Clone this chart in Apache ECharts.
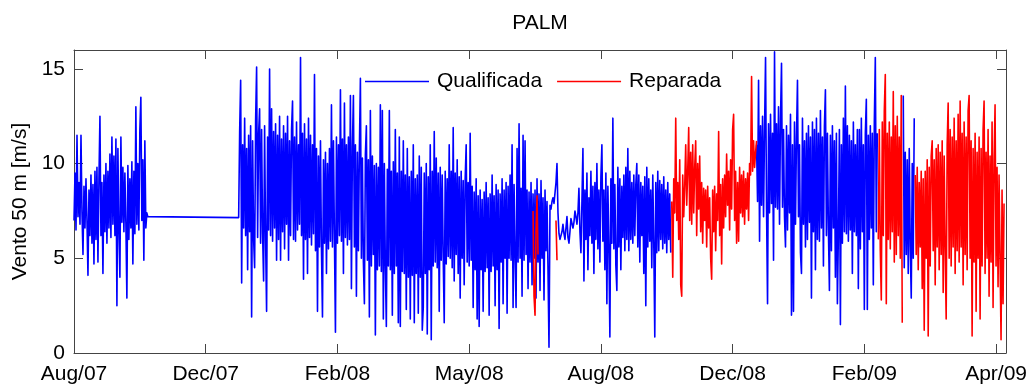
<!DOCTYPE html>
<html><head><meta charset="utf-8">
<script src="https://cdn.jsdelivr.net/npm/echarts@6/dist/echarts.min.js"></script>
<style>html,body{margin:0;padding:0;background:#fff}#c{width:1030px;height:390px}</style>
</head><body><div id="c"></div>
<script>
const chartTitle = 'PALM';
const yAxisName = 'Vento 50 m [m/s]';
const seriesNames = ['Qualificada', 'Reparada'];
const tickLabels = ['Aug/07', 'Dec/07', 'Feb/08', 'May/08', 'Aug/08', 'Dec/08', 'Feb/09', 'Apr/09'];
const samplesPerTick = 132;
const totalSamples = 934;
const yMax = 16;
const yTickStep = 5;

// Qualificada (blue): start sample index + wind speed values [m/s]
const qualStart1 = 0;
const qual1 = [
  7.0, 9.5, 6.5, 11.5, 7.2, 9.0, 6.8, 11.5, 7.4, 5.2,
  8.8, 6.6, 9.2, 7.0, 4.1, 8.6, 6.2, 9.4, 5.8, 8.9,
  4.7, 9.6, 6.0, 9.8, 4.8, 9.2, 12.5, 6.2, 9.0, 4.2,
  9.4, 6.4, 10.0, 5.8, 9.6, 6.6, 10.5, 6.1, 11.4, 6.8,
  10.4, 6.2, 11.3, 2.5, 10.8, 6.5, 4.0, 11.4, 6.9, 9.8,
  6.4, 9.5, 6.8, 2.9, 9.9, 6.0, 9.2, 6.6, 10.1, 4.7,
  9.6, 6.3, 13.0, 6.8, 10.0, 6.5, 11.8, 13.5, 7.0, 10.2,
  4.9, 11.2, 6.6, 7.4, 7.2];
const qualGapEnd = 165;
const qualGapValue = 7.15;
const qualStart2 = 166;
const qual2 = [
  11.7, 14.4, 3.7, 11.0, 6.6, 12.4, 6.2, 10.8, 4.4, 11.5,
  6.4, 12.0, 1.9, 11.2, 6.0, 4.5, 12.3, 15.1, 6.1, 11.6,
  12.9, 5.8, 11.8, 6.3, 3.8, 12.0, 6.0, 2.2, 11.4, 6.5,
  15.0, 6.2, 12.9, 5.9, 11.7, 6.6, 12.1, 4.9, 11.5, 6.0,
  12.5, 4.9, 11.3, 6.4, 12.0, 5.5, 11.6, 6.8, 12.5, 4.9,
  11.2, 6.2, 11.8, 13.3, 6.0, 11.4, 5.9, 12.2, 6.5, 11.0,
  6.8, 15.6, 6.2, 11.6, 3.9, 12.1, 6.0, 11.3, 4.2, 12.4,
  6.1, 11.5, 5.7, 11.0, 6.3, 14.7, 5.4, 10.8, 2.2, 10.4,
  5.6, 11.2, 5.4, 1.9, 10.2, 5.8, 10.6, 4.2, 10.0, 5.5,
  10.8, 5.9, 13.1, 5.6, 11.2, 6.0, 1.1, 11.4, 5.8, 11.0,
  6.2, 13.9, 5.9, 11.3, 4.2, 13.2, 6.1, 11.0, 5.7, 11.4,
  6.0, 13.6, 3.4, 10.9, 13.6, 5.6, 11.0, 3.0, 10.6, 5.4,
  10.8, 14.5, 5.0, 10.3, 4.8, 2.6, 10.5, 12.0, 4.9, 10.2,
  1.9, 12.8, 4.6, 10.4, 5.2, 9.9, 0.95, 10.0, 4.4, 9.8,
  4.6, 13.1, 4.3, 12.8, 1.8, 10.0, 4.5, 1.4, 9.7, 4.6,
  12.8, 4.4, 9.6, 2.0, 10.1, 4.2, 11.8, 4.6, 9.5, 1.6,
  11.4, 1.4, 9.6, 4.3, 11.2, 4.2, 9.4, 2.3, 10.8, 4.0,
  9.3, 1.8, 9.6, 4.1, 11.0, 1.6, 9.2, 4.2, 9.4, 2.1,
  10.4, 4.0, 9.8, 1.2, 2.4, 9.5, 4.2, 10.0, 1.0, 9.3,
  4.4, 11.0, 0.7, 9.6, 4.6, 11.7, 4.8, 10.3, 4.5, 9.5,
  2.2, 9.8, 4.9, 9.4, 5.0, 1.6, 9.6, 4.7, 9.2, 5.1,
  11.0, 5.0, 9.6, 4.5, 11.9, 3.8, 9.5, 5.2, 10.2, 4.2,
  9.3, 2.9, 9.6, 5.0, 9.1, 3.6, 9.2, 11.0, 4.8, 9.0,
  4.6, 11.6, 4.9, 8.8, 2.4, 8.5, 4.4, 9.2, 1.8, 8.3,
  1.4, 8.6, 4.4, 8.1, 2.2, 8.5, 4.3, 9.0, 4.5, 8.2,
  2.0, 8.4, 4.3, 9.4, 4.6, 8.3, 2.5, 8.9, 4.4, 8.6,
  1.3, 8.4, 4.8, 9.2, 2.6, 8.6, 5.0, 9.0, 2.1, 8.8,
  5.0, 9.4, 4.9, 11.0, 2.4, 8.9, 5.1, 2.4, 10.8, 4.8,
  12.1, 5.0, 8.7, 3.0, 11.5, 4.9, 11.2, 5.2, 8.6, 3.4,
  8.5, 4.8, 9.0, 3.6, 8.4, 5.0, 8.6, 2.9, 9.2, 4.8,
  8.4, 3.3, 9.1, 5.0, 8.2, 2.8, 8.6, 5.4, 8.0, 4.4,
  0.3, 7.8,
  7.6, 8.0, 8.2, 7.9, 7.8, 9.0, 10.0, 7.4, 6.3, 6.0,
  5.9, 6.4, 6.8, 6.3, 6.0, 6.6, 7.2, 6.1, 5.8, 6.4,
  7.1, 7.0, 6.6, 6.9, 7.5, 7.2, 6.8, 7.4, 8.7, 6.4,
  5.3, 8.0,
  10.8, 3.8, 8.6, 6.0, 9.5, 4.4, 8.2, 6.2, 9.6, 5.8,
  8.8, 4.2, 9.0, 6.0, 10.0, 5.5, 8.6, 4.8, 9.3, 11.0,
  5.9, 8.6, 4.4, 9.5, 2.6, 8.8, 5.6, 0.85, 9.2, 5.8,
  12.4, 5.5, 8.9, 4.6, 3.3, 9.8, 5.6, 9.2, 4.4, 8.8,
  6.1, 9.4, 5.4, 9.8, 6.0, 10.8, 5.4, 9.6, 6.0, 9.0,
  5.8, 9.4, 6.2, 8.9, 10.0, 5.6, 9.4, 4.8, 9.0, 6.2,
  8.8, 4.2, 9.3, 2.5, 9.8, 5.6, 9.2, 5.9, 8.6, 4.5,
  9.4, 5.8, 0.85, 9.0, 5.3, 9.6, 5.4, 9.1, 6.0, 8.9,
  5.5, 9.3, 5.8, 8.6, 5.3, 9.0, 6.0, 8.4, 5.3];
const qualStart3 = 684;
const qual3 = [
  11.0, 8.0, 14.4, 5.9, 12.0, 7.8, 12.5, 7.2, 11.8, 15.6,
  7.6, 2.6, 12.1, 7.4, 12.6, 7.9, 11.6, 4.9, 15.9, 7.7,
  12.1, 7.6, 13.0, 6.8, 12.4, 15.3, 7.7, 11.8, 7.2, 5.6,
  12.0, 6.5, 11.5, 7.4, 12.6, 2.0, 11.0, 2.2, 12.2, 6.8,
  11.4, 14.4, 7.2, 11.0, 5.3, 4.2, 12.4, 6.8, 11.2, 5.6,
  11.6, 6.0, 12.0, 6.9, 11.4, 2.9, 12.2, 6.4, 11.8, 4.4,
  12.4, 6.0, 11.6, 5.9, 12.8, 6.6, 11.4, 4.6, 12.0, 13.9,
  6.2, 11.6, 6.5, 3.3, 11.5, 5.4, 12.0, 6.6, 11.2, 4.0,
  11.6, 2.6, 6.3, 11.8, 1.5, 11.0, 5.8, 12.4, 6.4, 14.1,
  6.3, 12.0, 5.9, 11.5, 6.5, 11.2, 4.2, 12.2, 6.4, 11.0,
  6.2, 11.8, 3.4, 11.8, 5.5, 12.4, 6.4, 11.0, 2.3, 11.6,
  13.4, 2.3, 11.5, 6.0, 12.0, 6.6, 11.6, 3.6, 12.2, 15.6,
  6.4, 11.6];
const qualStart4 = 831;
const qual4 = [13.6, 4.5, 10.6, 5.2, 10.2, 4.2, 10.8, 5.6, 2.9, 10.0, 5.0, 12.4];

// Reparada (red): start sample index + values [m/s]
const repStart1 = 460;
const rep1 = [7.5, 3.0, 2.0, 6.5, 8.3, 5.2];
const repStart2 = 483;
const rep2 = [7.0, 4.9];
const repStart3 = 599;
const rep3 = [
  8.0, 4.0, 9.2, 7.4, 12.4, 7.0, 9.0, 6.0, 10.2, 3.6,
  3.0, 9.4, 7.2, 8.8, 11.0, 7.8, 9.6, 11.9, 7.0, 10.6,
  6.8, 11.0, 7.4, 9.8, 11.2, 6.2, 10.0, 7.6, 10.4, 6.4,
  9.0, 5.8, 8.7, 7.0, 8.6, 5.6, 8.8, 6.6, 8.2, 5.0,
  3.9, 8.6, 6.4, 8.8, 5.4, 8.4, 7.0, 11.7, 6.2, 8.9,
  4.7, 9.2, 6.6, 9.4, 7.2, 10.5, 7.8, 9.6, 6.5, 10.2,
  7.6, 11.8, 12.6, 7.0, 9.6, 5.8, 9.0, 5.9, 9.8, 7.4,
  9.4, 7.2, 9.6, 6.8, 9.2, 7.6, 9.5, 7.0, 10.0, 9.4,
  14.6, 9.6, 11.2, 9.8, 10.6, 11.2];
const repStart4 = 806;
const rep4 = [
  6.0, 11.8, 5.4, 2.8, 12.2, 6.2, 12.8, 14.7, 2.6, 11.6,
  6.0, 12.2, 5.5, 11.4, 6.4, 13.8, 4.8, 12.0, 5.2, 12.5,
  6.2, 11.4, 5.0, 13.6, 1.6];
const repStart5 = 843;
const rep5 = [
  9.4, 5.2, 9.8, 4.4, 9.0, 5.6, 9.6, 3.4, 9.2, 1.2,
  9.6, 5.0, 10.2, 0.9, 9.8, 4.6, 10.4, 11.2, 5.4, 10.2,
  3.6, 10.8, 5.6, 11.0, 4.4, 10.6, 5.2, 11.2, 3.2, 10.4,
  5.5, 1.8, 11.0, 13.2, 5.0, 11.8, 4.6, 11.4, 5.6, 12.4,
  4.2, 11.2, 5.4, 12.6, 4.8, 13.3, 5.6, 11.6, 3.6, 12.2,
  5.2, 11.4, 4.4, 12.8, 13.6, 5.0, 11.2, 0.9, 10.8, 4.8,
  11.6, 2.2, 10.6, 5.0, 11.4, 1.8, 10.8, 4.6, 11.8, 13.3,
  4.2, 10.6, 5.0, 11.8, 3.0, 10.4, 4.8, 12.2, 2.4, 10.2,
  13.1, 4.6, 9.8, 3.5, 9.4, 5.0, 0.7, 8.6, 2.6, 7.9];

function pts(start, vals) { return vals.map((v, j) => [start + j, v]); }
function brk(x) { return [[x, null]]; }

const blueData = [].concat(
  pts(qualStart1, qual1),
  [[qualGapEnd, qualGapValue]],
  pts(qualStart2, qual2),
  brk(qualStart2 + qual2.length + 0.5),
  pts(qualStart3, qual3),
  brk(qualStart3 + qual3.length + 0.5),
  pts(qualStart4, qual4)
);
const redData = [].concat(
  pts(repStart1, rep1), brk(repStart1 + rep1.length),
  pts(repStart2, rep2), brk(repStart2 + rep2.length),
  pts(repStart3, rep3), brk(repStart3 + rep3.length + 0.5),
  pts(repStart4, rep4), brk(repStart4 + rep4.length + 0.5),
  pts(repStart5, rep5)
);

const FONT = 'Liberation Sans, Arial, Helvetica, sans-serif';
const AX = '#444';
const BLUE = '#0000ff', RED = '#ff0000';
const chart = echarts.init(document.getElementById('c'), null, { renderer: 'canvas' });

const xBase = {
  type: 'value', min: 0, max: totalSamples, interval: samplesPerTick,
  splitLine: { show: false },
  axisLine: { show: true, onZero: false, lineStyle: { color: AX, width: 1 } },
  axisTick: { show: true, inside: true, length: 9, lineStyle: { color: AX } }
};
const yBase = {
  type: 'value', min: 0, max: yMax, interval: yTickStep,
  splitLine: { show: false },
  axisLine: { show: true, onZero: false, lineStyle: { color: AX, width: 1 } },
  axisTick: { show: true, inside: true, length: 9, lineStyle: { color: AX } }
};

chart.setOption({
  animation: false,
  backgroundColor: '#fff',
  title: {
    text: chartTitle, left: 540, top: 13, textAlign: 'center', padding: 0,
    textStyle: { fontFamily: FONT, fontSize: 21, fontWeight: 'normal', color: '#000' }
  },
  legend: {
    data: seriesNames, left: 365, top: 71, padding: 0,
    itemWidth: 64, itemHeight: 1.5, itemGap: 15, icon: 'rect',
    textStyle: { fontFamily: FONT, fontSize: 21, color: '#000', padding: [0, 0, 0, 3] }
  },
  grid: { left: 74, right: 23, top: 50, bottom: 37, containLabel: false },
  xAxis: [
    Object.assign({}, xBase, {
      position: 'bottom',
      axisLabel: {
        showMaxLabel: false, margin: 11, color: '#000', fontFamily: FONT, fontSize: 21,
        formatter: v => (v % samplesPerTick === 0 ? (tickLabels[v / samplesPerTick] || '') : '')
      }
    }),
    Object.assign({}, xBase, { position: 'top', axisLabel: { show: false } })
  ],
  yAxis: [
    Object.assign({}, yBase, {
      position: 'left',
      name: yAxisName, nameLocation: 'middle', nameGap: 36, nameRotate: 90,
      nameTextStyle: { fontFamily: FONT, fontSize: 21, color: '#000' },
      axisLabel: {
        showMaxLabel: false, margin: 9, color: '#000', fontFamily: FONT, fontSize: 21,
        formatter: v => (v % yTickStep === 0 ? String(v) : '')
      }
    }),
    Object.assign({}, yBase, { position: 'right', axisLabel: { show: false } })
  ],
  series: [
    {
      name: seriesNames[0], type: 'line', data: blueData, showSymbol: false, symbol: 'none',
      connectNulls: false, color: BLUE, lineStyle: { color: BLUE, width: 1.6, join: 'round' }
    },
    {
      name: seriesNames[1], type: 'line', data: redData, showSymbol: false, symbol: 'none',
      connectNulls: false, color: RED, lineStyle: { color: RED, width: 1.6, join: 'round' }
    }
  ]
});
</script></body></html>
